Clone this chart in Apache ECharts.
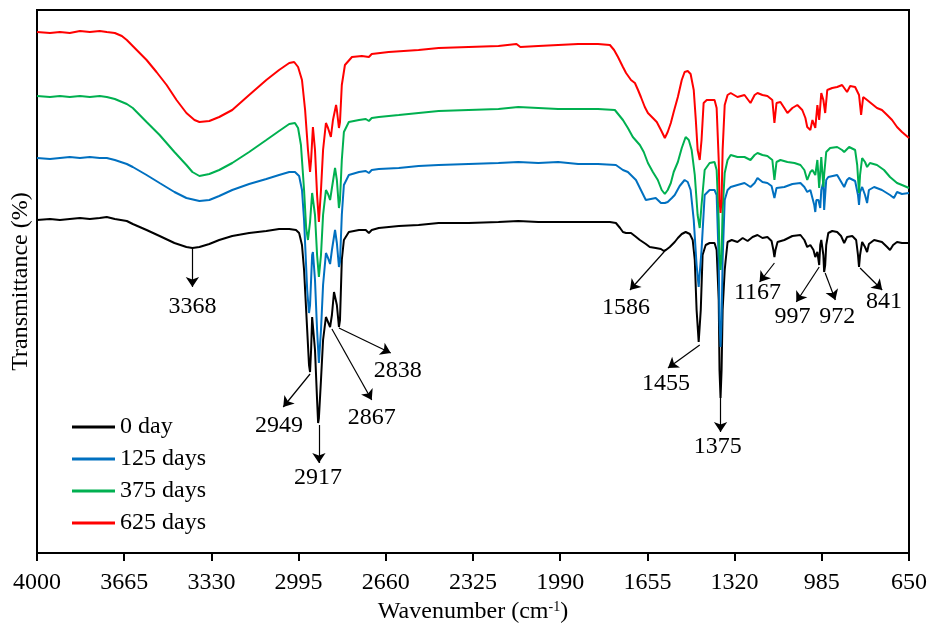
<!DOCTYPE html>
<html>
<head>
<meta charset="utf-8">
<title>FTIR spectra</title>
<script src="https://cdn.jsdelivr.net/npm/echarts@6.0.0/dist/echarts.min.js"></script>
<style>
  html, body { margin: 0; padding: 0; background: #fff; }
  #main { width: 930px; height: 630px; }
</style>
</head>
<body>
<div id="main"></div>
<script>
// wavenumber (cm-1), transmittance (arbitrary, curves offset)
var day0 = [
  [4000,333],[3950,334],[3912,333],[3874,334],[3835,335],[3797,334],[3759,335],[3732,336],[3701,334],[3655,332],
  [3632,329],[3579,323],[3529,317],[3472,310],[3426,306],[3403,305],[3376,306],[3338,309],[3300,313],[3250,317],
  [3185,320],[3119,322],[3070,324],[3031,324],[3005,323],[2993,320],[2982,308],[2974,283],[2962,223],[2955,188],
  [2951,181],[2947,203],[2943,236],[2940,235],[2932,203],[2924,153],[2920,130],[2917,135],[2909,173],[2901,213],
  [2890,236],[2882,231],[2874,226],[2867,238],[2859,261],[2855,263],[2848,248],[2840,226],[2836,233],[2829,293],
  [2821,313],[2802,321],[2763,323],[2737,323],[2725,320],[2714,323],[2687,325],[2610,327],[2534,328],[2457,330],
  [2342,330],[2227,331],[2151,332],[2074,331],[1998,331],[1921,331],[1845,331],[1799,331],[1776,330],[1760,325],
  [1749,321],[1737,320],[1718,320],[1703,317],[1684,313],[1661,309],[1646,306],[1623,305],[1603,304],[1592,302],
  [1584,303],[1569,306],[1550,311],[1538,315],[1523,319],[1508,321],[1492,319],[1481,313],[1473,293],[1466,243],
  [1458,211],[1454,213],[1450,243],[1443,298],[1431,308],[1416,310],[1397,310],[1389,303],[1381,253],[1378,183],
  [1374,155],[1370,183],[1366,243],[1358,283],[1355,291],[1347,311],[1331,313],[1309,311],[1289,315],[1270,312],
  [1251,316],[1232,318],[1213,315],[1194,316],[1178,312],[1171,303],[1167,296],[1163,303],[1155,311],[1129,313],
  [1098,317],[1067,318],[1052,313],[1041,306],[1029,308],[1017,303],[1010,296],[1002,301],[995,288],[991,308],
  [987,313],[979,298],[976,281],[972,288],[968,308],[960,320],[945,322],[926,321],[911,317],[899,310],
  [888,316],[868,317],[853,313],[846,298],[842,286],[838,298],[830,311],[819,306],[811,301],[804,309],
  [784,313],[754,311],[734,306],[723,303],[711,308],[696,311],[677,310],[650,310]
];
var day125 = [
  [4000,395],[3950,394],[3912,395],[3874,396],[3835,395],[3797,396],[3759,395],[3732,395],[3701,393],[3655,389],
  [3632,386],[3579,378],[3529,370],[3472,361],[3426,355],[3376,352],[3338,353],[3300,357],[3250,363],[3185,369],
  [3119,374],[3070,378],[3031,381],[3009,381],[2993,377],[2982,363],[2974,333],[2962,263],[2955,240],[2951,248],
  [2943,298],[2940,301],[2932,273],[2924,223],[2917,190],[2909,223],[2901,268],[2890,300],[2882,295],[2874,289],
  [2867,303],[2855,323],[2848,310],[2840,286],[2836,291],[2829,338],[2821,368],[2802,378],[2763,381],[2737,382],
  [2725,380],[2714,383],[2687,384],[2610,385],[2534,387],[2457,388],[2342,389],[2227,390],[2151,391],[2074,390],
  [1998,391],[1921,389],[1845,389],[1776,388],[1749,383],[1730,381],[1699,373],[1680,363],[1661,353],[1642,354],
  [1623,355],[1603,350],[1588,350],[1577,351],[1561,355],[1550,358],[1531,367],[1512,373],[1500,371],[1489,363],
  [1477,333],[1466,288],[1458,266],[1454,268],[1447,303],[1435,358],[1416,363],[1397,363],[1389,358],[1381,293],
  [1378,233],[1374,206],[1370,233],[1366,293],[1358,353],[1347,363],[1335,366],[1309,368],[1282,370],[1259,366],
  [1243,370],[1232,375],[1213,371],[1194,370],[1178,367],[1167,355],[1159,365],[1129,366],[1098,369],[1067,370],
  [1052,366],[1041,361],[1029,363],[1021,355],[1014,348],[1010,341],[1006,353],[998,353],[991,345],[987,363],
  [979,371],[976,343],[972,358],[968,373],[960,376],[926,378],[899,366],[888,373],[880,375],[857,372],
  [846,358],[842,348],[838,361],[830,366],[819,358],[811,350],[804,363],[784,366],[754,363],[723,358],
  [708,355],[696,361],[677,359],[650,360]
];
var day375 = [
  [4000,457],[3950,456],[3912,457],[3874,456],[3835,457],[3797,456],[3759,457],[3732,456],[3701,454],[3655,449],
  [3632,445],[3579,431],[3529,418],[3472,401],[3426,388],[3403,381],[3376,377],[3338,379],[3300,383],[3250,390],
  [3185,401],[3119,413],[3070,422],[3031,429],[3009,430],[2997,425],[2986,408],[2974,363],[2966,325],[2959,313],
  [2951,331],[2943,360],[2940,361],[2932,338],[2924,298],[2917,276],[2909,298],[2901,338],[2890,363],[2882,359],
  [2874,353],[2867,365],[2855,385],[2848,373],[2840,345],[2836,353],[2829,393],[2821,421],[2802,431],[2763,433],
  [2737,434],[2725,432],[2714,435],[2687,436],[2610,438],[2534,440],[2457,442],[2342,443],[2227,444],[2151,446],
  [2074,445],[1998,444],[1921,444],[1845,444],[1780,443],[1749,433],[1730,425],[1711,416],[1684,408],[1669,401],
  [1653,390],[1634,381],[1615,373],[1600,363],[1588,359],[1577,363],[1565,370],[1554,381],[1538,391],[1523,405],
  [1508,416],[1496,413],[1485,403],[1473,378],[1462,338],[1454,325],[1447,348],[1435,383],[1416,390],[1397,391],
  [1389,383],[1381,333],[1378,298],[1374,283],[1370,298],[1366,343],[1358,380],[1347,393],[1335,398],[1309,396],
  [1282,396],[1259,393],[1243,398],[1232,400],[1213,398],[1194,397],[1175,393],[1167,373],[1159,391],[1144,393],
  [1117,391],[1090,390],[1067,388],[1052,383],[1041,373],[1029,381],[1021,383],[1010,378],[1002,393],[995,365],
  [987,396],[979,366],[976,378],[968,401],[953,405],[926,406],[907,403],[899,401],[880,406],[857,403],
  [849,388],[842,360],[838,378],[830,395],[819,391],[811,386],[800,390],[773,388],[746,383],[723,376],
  [696,370],[677,368],[650,365]
];
var day625 = [
  [4000,521],[3950,520],[3912,521],[3874,520],[3835,522],[3797,521],[3759,522],[3732,521],[3701,520],[3674,517],
  [3655,513],[3617,503],[3579,493],[3541,481],[3502,468],[3464,453],[3426,440],[3395,433],[3376,431],[3338,432],
  [3300,436],[3250,443],[3185,458],[3119,473],[3070,483],[3031,490],[3012,491],[2997,486],[2982,473],[2970,443],
  [2959,403],[2951,381],[2947,393],[2940,426],[2932,403],[2924,358],[2917,331],[2909,363],[2901,403],[2890,430],
  [2882,425],[2871,416],[2863,433],[2851,448],[2848,443],[2840,425],[2836,431],[2829,468],[2817,488],[2790,496],
  [2752,497],[2725,496],[2714,499],[2649,501],[2534,503],[2457,505],[2342,506],[2227,507],[2158,509],[2143,506],
  [2074,507],[1998,508],[1921,509],[1845,509],[1799,508],[1783,503],[1768,496],[1749,486],[1737,480],[1718,473],
  [1703,470],[1691,463],[1680,456],[1665,446],[1653,440],[1634,435],[1619,431],[1603,423],[1588,415],[1577,421],
  [1565,430],[1554,441],[1538,456],[1523,473],[1512,481],[1500,482],[1489,479],[1477,463],[1469,433],[1462,403],
  [1454,393],[1447,413],[1439,450],[1427,453],[1416,453],[1397,453],[1389,445],[1381,393],[1378,353],[1374,340],
  [1370,353],[1366,403],[1358,448],[1347,458],[1335,460],[1309,456],[1282,458],[1259,450],[1243,458],[1232,460],
  [1213,458],[1194,457],[1175,453],[1167,430],[1159,450],[1144,451],[1129,445],[1117,440],[1098,445],[1079,448],
  [1060,443],[1048,435],[1041,426],[1029,423],[1021,433],[1010,425],[1002,448],[995,433],[987,460],[979,453],
  [972,440],[964,463],[945,465],[926,466],[907,468],[888,461],[876,467],[857,466],[842,458],[834,438],
  [826,456],[811,453],[792,449],[773,445],[754,443],[734,438],[715,433],[696,426],[677,421],[650,415]
];

var seriesNames = ['0 day', '125 days', '375 days', '625 days'];
var xTicks = [4000, 3665, 3330, 2995, 2660, 2325, 1990, 1655, 1320, 985, 650];

// peak annotations: label, arrow start, arrow tip, text position
var peakLabels = ['3368', '2949', '2917', '2867', '2838', '1586', '1455', '1375', '1167', '997', '972', '841'];
var arrowFrom = [[3403,305],[2951,179],[2917,128],[2867,224],[2840,225],[1588,302],[1454,208],[1374,155],[1167,290],[995,286],[972,280],[838,285]];
var arrowTo   = [[3403,266],[3054,146],[2917,90],[2714,153],[2641,200],[1722,263],[1576,185],[1374,121],[1224,271],[1083,251],[933,253],[753,263]];
var labelAt   = [[3403,246],[3070,127],[2920,75],[2714,135],[2614,182],[1737,245],[1584,169],[1385,106],[1232,260],[1098,236],[926,236],[746,251]];

var serif = "'Liberation Serif', 'Times New Roman', serif";
var colors = ['#000000', '#0070C0', '#00B050', '#FF0000'];
var allData = [day0, day125, day375, day625];

var chart = echarts.init(document.getElementById('main'));

var arrows = peakLabels.map(function(t, i) {
  return [{ coord: arrowFrom[i] }, { coord: arrowTo[i] }];
});
var texts = peakLabels.map(function(t, i) {
  return { coord: labelAt[i], value: t };
});

var series = allData.map(function(d, i) {
  var s = {
    name: seriesNames[i],
    type: 'line',
    data: d,
    symbol: 'none',
    showSymbol: false,
    lineStyle: { width: 2, color: colors[i] },
    itemStyle: { color: colors[i] },
    emphasis: { disabled: true },
    animation: false
  };
  if (i === 0) {
    s.markLine = {
      silent: true,
      animation: false,
      symbol: ['none', 'arrow'],
      symbolSize: 10,
      label: { show: false },
      lineStyle: { color: '#000', width: 1.2, type: 'solid' },
      itemStyle: { color: '#000' },
      emphasis: { disabled: true },
      data: arrows
    };
    s.markPoint = {
      silent: true,
      animation: false,
      symbol: 'circle',
      symbolSize: 0,
      label: {
        show: true,
        position: 'inside',
        formatter: '{c}',
        color: '#000',
        fontSize: 24,
        fontFamily: serif
      },
      data: texts
    };
  }
  return s;
});

var option = {
  backgroundColor: '#fff',
  animation: false,
  grid: {
    left: 37, right: 18, top: 10, bottom: 77,
    show: true,
    borderColor: '#000',
    borderWidth: 2,
    backgroundColor: 'transparent'
  },
  legend: {
    orient: 'vertical',
    left: 67,
    top: 410,
    icon: 'rect',
    itemWidth: 43,
    itemHeight: 3,
    itemGap: 8,
    data: seriesNames,
    textStyle: { fontSize: 24, fontFamily: serif, color: '#000' }
  },
  xAxis: {
    type: 'value',
    min: 650,
    max: 4000,
    inverse: true,
    name: '{a|Wavenumber (cm}{s|-1}{a|)}',
    nameLocation: 'middle',
    nameGap: 38,
    nameTextStyle: {
      rich: {
        a: { fontSize: 24, fontFamily: serif, color: '#000' },
        s: { fontSize: 14, fontFamily: serif, color: '#000', verticalAlign: 'top', padding: [0, 0, 8, 0] }
      }
    },
    axisLine: { show: true, lineStyle: { color: '#000', width: 2 } },
    axisTick: { show: true, inside: false, length: 8, customValues: xTicks, lineStyle: { color: '#000', width: 2 } },
    axisLabel: {
      customValues: xTicks,
      margin: 18,
      fontSize: 24,
      fontFamily: serif,
      color: '#000',
      formatter: function(v) { return String(v); }
    },
    splitLine: { show: false }
  },
  yAxis: {
    type: 'value',
    min: 0,
    max: 543,
    name: 'Transmittance (%)',
    nameLocation: 'middle',
    nameGap: 4,
    nameTextStyle: { fontSize: 24, fontFamily: serif, color: '#000' },
    axisLine: { show: true, lineStyle: { color: '#000', width: 2 } },
    axisTick: { show: false },
    axisLabel: { show: false },
    splitLine: { show: false }
  },
  series: series
};

chart.setOption(option);
</script>
</body>
</html>
